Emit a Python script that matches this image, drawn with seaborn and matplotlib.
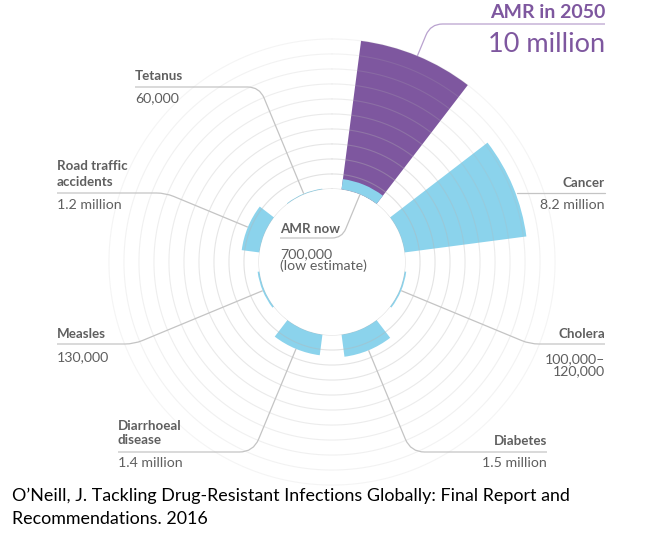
import numpy as np
import pandas as pd
import matplotlib
matplotlib.use('Agg')
import matplotlib.pyplot as plt
from matplotlib.path import Path
from matplotlib.patches import PathPatch
import seaborn as sns

# data (deaths per year, millions)
causes = ['AMR now', 'Cancer', 'Cholera', 'Diabetes', 'Diarrhoeal disease',
          'Measles', 'Road traffic accidents', 'Tetanus']
deaths_now = [0.7, 8.2, 0.12, 1.5, 1.4, 0.13, 1.2, 0.06]
amr_2050 = 10.0
value_labels = ['700,000\n(low estimate)', '8.2 million', '100,000–\n120,000', '1.5 million',
                '1.4 million', '130,000', '1.2 million', '60,000']

PURPLE = '#7e579f'
CYAN = '#8bd3ec'
GREY_TXT = '#5f5f5f'
GREY_LINE = '#c4c4c4'

W, H = 650, 545
sns.set_theme(style='white')
plt.rcParams['font.family'] = ['Lato', 'DejaVu Sans']

theta = np.deg2rad(22.5 + 45 * np.arange(len(causes)))
df = pd.DataFrame({'theta': np.concatenate([[theta[0]], theta]),
                   'deaths': [amr_2050] + deaths_now,
                   'period': ['2050'] + ['now'] * len(causes)})

fig = plt.figure(figsize=(W / 100, H / 100), dpi=100)
r0 = 4.87      # hole radius in data units
rmax = 10.6
rad_px = 15 * (rmax + r0)
cx, cy = 332, 262
ax = fig.add_axes([(cx - rad_px) / W, (H - cy - rad_px) / H, 2 * rad_px / W, 2 * rad_px / H],
                  projection='polar')
ax.set_theta_zero_location('N')
ax.set_theta_direction(-1)

sns.barplot(data=df, x='theta', y='deaths', hue='period', hue_order=['2050', 'now'],
            palette={'2050': PURPLE, 'now': CYAN}, native_scale=True, dodge=False,
            width=0.667, errorbar=None, legend=False, saturation=1, linewidth=0,
            ax=ax, zorder=2)

ax.set_ylim(0, rmax)
ax.set_rorigin(-r0)
ax.set_xlim(0, 2 * np.pi)
ax.grid(False)
ax.set_xticks([])
ax.set_yticks([])
ax.set_xlabel('')
ax.set_ylabel('')
for sp in ax.spines.values():
    sp.set_color('none')
    sp.set_linewidth(0)
ax.patch.set_alpha(0)

# rings, one per million, fading outward
ring_t = np.linspace(0, 2 * np.pi, 400)
for k in range(0, 11):
    ax.plot(ring_t, np.full_like(ring_t, k), color='#b5b5b5', lw=0.8,
            alpha=0.42 - 0.028 * k, zorder=3)


def fig_xy(x, y):
    return x / W, 1 - y / H


def to_img(th_deg, r):
    d = ax.transData.transform((np.deg2rad(th_deg), r))
    return d[0], H - d[1]


def leader(th_deg, r, y_line, x_end, color=GREY_LINE, rnd=9, inward=False):
    sx, sy = to_img(th_deg, r)
    ux, uy = sx - cx, sy - cy
    n = np.hypot(ux, uy)
    ux, uy = ux / n, uy / n
    if inward:
        ux, uy = -ux, -uy
    t = (y_line - sy) / uy
    kx = sx + t * ux
    hd = np.sign(x_end - kx)
    a = (kx - rnd * ux, y_line - rnd * uy)
    b = (kx + rnd * hd, y_line)
    verts = [(sx, sy), a, (kx, y_line), b, (x_end, y_line)]
    codes = [Path.MOVETO, Path.LINETO, Path.CURVE3, Path.CURVE3, Path.LINETO]
    verts = [fig_xy(*v) for v in verts]
    fig.add_artist(PathPatch(Path(verts, codes), fc='none', ec=color, lw=0.9,
                             transform=fig.transFigure))


def hline(x1, x2, y, color=GREY_LINE):
    fig.add_artist(plt.Line2D([x1 / W, x2 / W], [1 - y / H] * 2, color=color, lw=0.9,
                              transform=fig.transFigure))


def label(x, y, s, ha='left', bold=True, size=9.6, color=GREY_TXT, ls=1.3):
    fig.text(*fig_xy(x, y), s, ha=ha, va='center', fontsize=size, color=color,
             fontweight='bold' if bold else 'normal', linespacing=ls)


VAL = 10.2
ang = np.rad2deg(theta)

# AMR in 2050
leader(ang[0], amr_2050, 24, 605, color='#b9a2cf', rnd=12)
label(605, 12, 'AMR in 2050', ha='right', size=14, color=PURPLE)
label(605, 45, '10 million', ha='right', bold=False, size=19.5, color=PURPLE)

# AMR now (inside the hole)
leader(ang[0], 0, 238, 280, rnd=10, inward=True)
label(280, 229, 'AMR now')
label(280, 260, value_labels[0], bold=False, size=VAL, ls=1.0)

# Cancer
bx, _ = to_img(71, deaths_now[1])
hline(bx, 605, 193)
label(605, 183, 'Cancer', ha='right')
label(605, 205, value_labels[1], ha='right', bold=False, size=VAL)

# Cholera
leader(ang[2], deaths_now[2], 344, 605)
label(605, 334, 'Cholera', ha='right')
label(605, 365, value_labels[2], ha='right', bold=False, size=VAL, ls=1.05)

# Diabetes
leader(ang[3], deaths_now[3], 452, 547, rnd=14)
label(547, 441, 'Diabetes', ha='right')
label(547, 463, value_labels[3], ha='right', bold=False, size=VAL)

# Diarrhoeal disease
leader(ang[4], deaths_now[4], 452, 118, rnd=14)
label(118, 433, 'Diarrhoeal\ndisease')
label(118, 463, value_labels[4], bold=False, size=VAL)

# Measles
leader(ang[5], deaths_now[5], 344, 57)
label(57, 334, 'Measles')
label(57, 357, value_labels[5], bold=False, size=VAL)

# Road traffic accidents
leader(ang[6], deaths_now[6], 193, 57)
label(57, 174, 'Road traffic\naccidents')
label(57, 205, value_labels[6], bold=False, size=VAL)

# Tetanus
leader(ang[7], deaths_now[7], 87, 135, rnd=12)
label(135, 76, 'Tetanus')
label(135, 98, value_labels[7], bold=False, size=VAL)

# source
fig.text(12 / W, 1 - 496 / H, 'O\u2019Neill, J. Tackling Drug-Resistant Infections Globally: Final Report and',
         ha='left', va='center', fontsize=12.85, color='black')
fig.text(12 / W, 1 - 519 / H, 'Recommendations. 2016',
         ha='left', va='center', fontsize=12.85, color='black')

fig.savefig('out.png', dpi=100, facecolor='white')
